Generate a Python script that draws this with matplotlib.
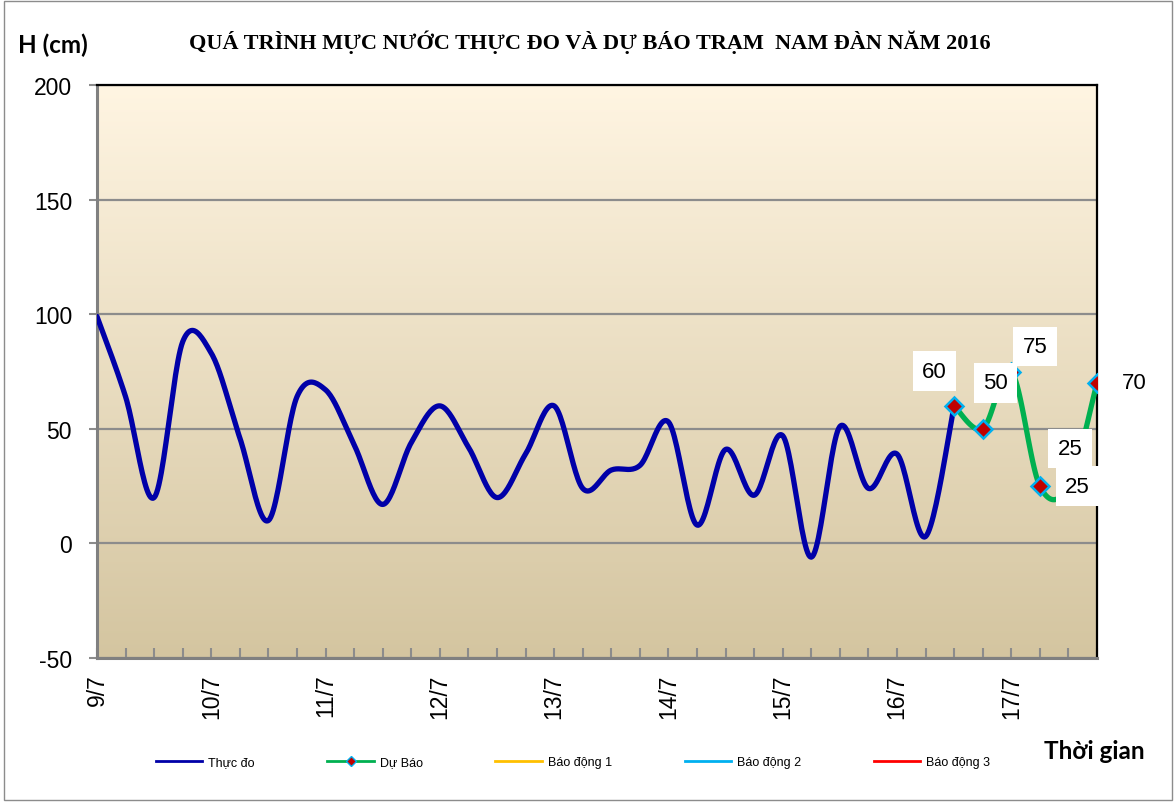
import numpy as np
import matplotlib
matplotlib.use('Agg')
import matplotlib.pyplot as plt
from matplotlib.lines import Line2D
from matplotlib.patches import Rectangle

plt.rcParams['axes.unicode_minus'] = False

# 6-hourly water level (cm), Nam Dan station, 9/7 - 17/7/2016
observed = [99, 64, 20, 88, 83, 46, 10, 64, 67, 43, 17, 44, 60, 42, 20, 39,
            60, 24, 32, 34, 53, 8, 41, 21, 47, -6, 51, 24, 39, 3, 60]
forecast = [60, 50, 75, 25, 25, 70]
forecast_start = 30
day_labels = ['9/7', '10/7', '11/7', '12/7', '13/7', '14/7', '15/7', '16/7', '17/7']
steps_per_day = 4
alarm_levels = [540, 690, 790]  # BD1, BD2, BD3 (off the chart range)


def smooth(xs, ys, n=24):
    # catmull-rom, like excel's "smoothed line"
    xs = np.asarray(xs, float)
    ys = np.asarray(ys, float)
    px = np.concatenate([[xs[0]], xs, [xs[-1]]])
    py = np.concatenate([[ys[0]], ys, [ys[-1]]])
    ox, oy = [], []
    for k in range(1, len(px) - 2):
        t = np.linspace(0, 1, n, endpoint=False)
        for p, out in ((px, ox), (py, oy)):
            p0, p1, p2, p3 = p[k - 1], p[k], p[k + 1], p[k + 2]
            c1 = p1 + (p2 - p0) / 6
            c2 = p2 - (p3 - p1) / 6
            out.extend((1 - t)**3 * p1 + 3 * (1 - t)**2 * t * c1 + 3 * (1 - t) * t**2 * c2 + t**3 * p2)
    ox.append(xs[-1])
    oy.append(ys[-1])
    return np.array(ox), np.array(oy)


fig = plt.figure(figsize=(11.76, 8.03), dpi=100)
ax = fig.add_axes([97/1176, 1 - 659/803, 1000/1176, 573/803])

xmax = forecast_start + len(forecast) - 1
ax.set_xlim(0, xmax)
ax.set_ylim(-50, 200)

# gradient background
top = np.array([255, 245, 226]) / 255
bot = np.array([212, 197, 160]) / 255
g = np.linspace(0, 1, 256)[:, None]
grad = (top * (1 - g) + bot * g)[:, None, :]
ax.imshow(np.repeat(grad, 2, axis=1), extent=[0, xmax, -50, 200], aspect='auto', zorder=0)

ax.set_yticks(np.arange(-50, 201, 50))
ax.yaxis.grid(True, color='#8c8c8c', lw=1.6, zorder=1)
ax.set_axisbelow(True)

for lvl, c in zip(alarm_levels, ['#FFC000', '#00B0F0', '#FF0000']):
    ax.axhline(lvl, color=c, lw=2.5)

xo = np.arange(len(observed))
sx, sy = smooth(xo, observed)
ax.plot(sx, sy, color='#0000A8', lw=3.8, solid_capstyle='round', zorder=3)

xf = np.arange(forecast_start, forecast_start + len(forecast))
fx, fy = smooth(xf, forecast)
ax.plot(fx, fy, color='#00B050', lw=3.8, solid_capstyle='round', zorder=4)
ax.plot(xf, forecast, ls='none', marker='D', ms=9, mfc='#C00000', mec='#00B0F0', mew=1.8, zorder=5)

# data labels (offsets in points)
offsets = [(-14, 25), (9, 33), (17, 18), (27, 0), (1, 27), (27, 0)]
for x, v, off in zip(xf, forecast, offsets):
    ax.annotate(str(v), (x, v), xytext=off, textcoords='offset points', ha='center', va='center',
                fontsize=16, family='Liberation Sans', zorder=6, annotation_clip=False,
                bbox=dict(boxstyle='square,pad=0.42', fc='white', ec='none'))

ax.set_xticks(np.arange(0, xmax + 1, steps_per_day))
ax.set_xticks(np.arange(0, xmax + 1), minor=True)
ax.set_xticklabels(day_labels, rotation=90, fontsize=16.5, family='Liberation Sans')
ax.tick_params(axis='x', which='both', direction='in', length=7, width=1.5, color='#8c8c8c', pad=11)
ax.tick_params(axis='y', direction='out', length=6, width=1.5, color='#8c8c8c', labelsize=16.5, pad=12)
for lab in ax.get_yticklabels():
    lab.set_family('Liberation Sans')

ax.spines['left'].set_color('#808080')
ax.spines['left'].set_linewidth(2.2)
ax.spines['bottom'].set_color('#808080')
ax.spines['bottom'].set_linewidth(2.2)
ax.spines['top'].set_color('black')
ax.spines['top'].set_linewidth(1.6)
ax.spines['right'].set_color('black')
ax.spines['right'].set_linewidth(1.6)

fig.text(590/1176, 1 - 42/803, 'QUÁ TRÌNH MỰC NƯỚC THỰC ĐO VÀ DỰ BÁO TRẠM  NAM ĐÀN NĂM 2016',
         ha='center', va='center', fontsize=16, fontweight='bold', family=['Liberation Serif', 'DejaVu Serif'])
fig.text(18/1176, 1 - 45/803, 'H (cm)', ha='left', va='center', fontsize=17.5, fontweight='bold', family='Lato')
fig.text(1145/1176, 1 - 752/803, 'Thời gian', ha='right', va='center', fontsize=17.5, fontweight='bold', family='Lato')

handles = [
    Line2D([], [], color='#0000A8', lw=2),
    Line2D([], [], color='#00B050', lw=2, marker='D', ms=5, mfc='#C00000', mec='#00B0F0'),
    Line2D([], [], color='#FFC000', lw=2),
    Line2D([], [], color='#00B0F0', lw=2),
    Line2D([], [], color='#FF0000', lw=2),
]
names = ['Thực đo', 'Dự Báo', 'Báo động 1', 'Báo động 2', 'Báo động 3']
fig.legend(handles, names, loc='center', bbox_to_anchor=(573/1176, 1 - 763/803), ncol=5,
           frameon=False, handlelength=3.7, columnspacing=5.8, handletextpad=0.5,
           prop={'family': 'Liberation Sans', 'size': 9})

fig.add_artist(Rectangle((0.003, 0.003), 0.994, 0.994, transform=fig.transFigure,
                         fill=False, ec='#8c8c8c', lw=1))

fig.savefig('out.png', dpi=100)
